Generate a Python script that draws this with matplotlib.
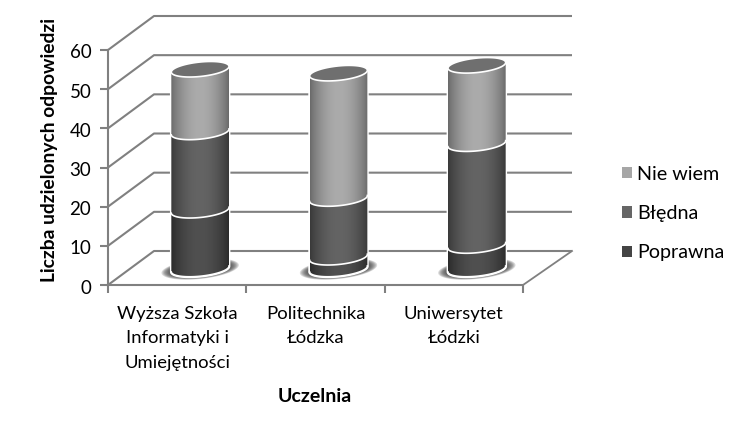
import numpy as np
import matplotlib
matplotlib.use("Agg")
import matplotlib.pyplot as plt
from matplotlib.patches import Patch, PathPatch, Polygon
from matplotlib.path import Path
from matplotlib.transforms import ScaledTranslation

categories = ["Wyższa Szkoła\nInformatyki i\nUmiejętności", "Politechnika\nŁódzka", "Uniwersytet\nŁódzki"]
series_names = ["Poprawna", "Błędna", "Nie wiem"]
poprawna = [15, 3, 6]
bledna = [20, 15, 26]
nie_wiem = [16, 32, 20]
yticks = [0, 10, 20, 30, 40, 50, 60]

edge_cols = ["#2a2a2a", "#383838", "#686868"]
mid_cols = ["#505050", "#646464", "#ababab"]
legend_cols = ["#444444", "#666666", "#a6a6a6"]
GRID = "#808080"

plt.rcParams["font.family"] = ["Lato", "DejaVu Sans"]
W, H = 740, 424
fig = plt.figure(figsize=(W / 100, H / 100), dpi=100)
L, R, T, B = 108, 523, 50, 285
ax = fig.add_axes([L / W, 1 - B / H, (R - L) / W, (B - T) / H])
ax.set_xlim(-0.5, 2.5)
ax.set_ylim(0, 60)
ax.set_facecolor("none")
pxx = 3.0 / (R - L)     # data units per px
pxy = 60.0 / (B - T)
dep_x, dep_y = 46 * pxx, 34 * pxy
end_x = 2.5 + 49 * pxx

# walls and floor
for v in yticks:
    ax.plot([-0.5, -0.5 + dep_x, end_x], [v, v + dep_y, v + dep_y], color=GRID, lw=1.5,
            clip_on=False, zorder=1, solid_capstyle="butt")
ax.plot([2.5, end_x], [0, dep_y], color=GRID, lw=1.3, clip_on=False, zorder=1)

# cylinders
a, b, th = 29.0, 7.2, np.deg2rad(-6.0)   # pixel geometry, y pointing down
base = dep_y / 2 - 1 * pxy


def ell(cx, v, t):
    xp = a * np.cos(t) * np.cos(th) - b * np.sin(t) * np.sin(th)
    yp = a * np.cos(t) * np.sin(th) + b * np.sin(t) * np.cos(th)
    return cx + xp * pxx, v + base - yp * pxy


tl = np.linspace(0, np.pi, 60)  # lower arc, right to left
tall = np.linspace(0, 2 * np.pi, 120)
grad_t = np.linspace(0, 1, 256)
prof = np.sin(np.pi * grad_t) ** 0.8

for i in range(len(categories)):
    cx = i + 46 * pxx / 2
    vals = [poprawna[i], bledna[i], nie_wiem[i]]
    cum = np.concatenate([[0], np.cumsum(vals)])
    # base shadow
    for k, s in enumerate(np.linspace(1.34, 1.0, 9)):
        sx, sy = ell(cx, 0, tall)
        sx = cx + (sx - cx) * s
        sy = base + (sy - base) * (1.0 + (s - 1) * 1.1)
        ax.add_patch(Polygon(np.c_[sx, sy], closed=True, fc="#404040", ec="none", alpha=0.2,
                             clip_on=False, zorder=2))
    # white halo
    hx = np.r_[ell(cx, cum[0], tl)[0], ell(cx, cum[-1], tl[::-1])[0]]
    hy = np.r_[ell(cx, cum[0], tl)[1], ell(cx, cum[-1], tl[::-1])[1]]
    ax.add_patch(Polygon(np.c_[hx, hy], closed=True, fc="white", ec="white", lw=2.0,
                         clip_on=False, zorder=3))
    for j in range(3):
        x0, y0 = ell(cx, cum[j], tl)
        x1, y1 = ell(cx, cum[j + 1], tl[::-1])
        poly = np.c_[np.r_[x0, x1], np.r_[y0, y1]]
        clip = PathPatch(Path(np.vstack([poly, poly[0]])), transform=ax.transData, fc="none", ec="none")
        ax.add_patch(clip)
        c0 = np.array(matplotlib.colors.to_rgb(edge_cols[j]))
        c1 = np.array(matplotlib.colors.to_rgb(mid_cols[j]))
        img = (c0[None, None, :] + (c1 - c0)[None, None, :] * prof[None, :, None])
        im = ax.imshow(img, extent=[poly[:, 0].min(), poly[:, 0].max(), poly[:, 1].min(), poly[:, 1].max()],
                       aspect="auto", origin="lower", zorder=4, interpolation="bilinear")
        im.set_clip_path(clip)
        ax.plot(x0, y0, color="white", lw=1.2, clip_on=False, zorder=5)
    # top
    tx, ty = ell(cx, cum[-1], tall)
    ax.add_patch(Polygon(np.c_[tx, ty], closed=True, fc="#6f6f6f", ec="white", lw=1.2,
                         clip_on=False, zorder=6))

ax.set_xlim(-0.5, 2.5)
ax.set_ylim(0, 60)

# axes
for s in ["top", "right"]:
    ax.spines[s].set_visible(False)
for s in ["left", "bottom"]:
    ax.spines[s].set_color(GRID)
    ax.spines[s].set_linewidth(1.5)
    ax.spines[s].set_zorder(7)
ax.set_yticks(yticks)
ax.set_xticks(range(len(categories)))
ax.set_xticklabels(categories, fontsize=13.3, color="black", linespacing=1.65)
ax.set_xticks([-0.5, 0.5, 1.5, 2.5], minor=True)
ax.tick_params(axis="x", which="major", length=0, pad=15)
ax.tick_params(axis="x", which="minor", length=6, width=1.5, color=GRID)
ax.tick_params(axis="y", length=6, width=1.5, color=GRID, labelsize=13.5, pad=6)
for lab in ax.get_yticklabels():
    lab.set_transform(lab.get_transform() + ScaledTranslation(0, -0.015, fig.dpi_scale_trans))
ax.set_ylabel("Liczba udzielonych odpowiedzi", fontsize=13.9, fontweight="bold")
ax.yaxis.set_label_coords((58 - L) / (R - L), (B - 150) / (B - T))
ax.set_xlabel("Uczelnia", fontsize=14, fontweight="bold")
ax.xaxis.set_label_coords((315 - L) / (R - L), (B - 388) / (B - T))

handles = [Patch(fc=legend_cols[k], ec="none", label=series_names[k]) for k in [2, 1, 0]]
fig.legend(handles=handles, loc="center left", bbox_to_anchor=(622 / W, 1 - 213.5 / H), frameon=False,
           fontsize=14.2, handlelength=0.52, handleheight=0.52, handletextpad=0.24, labelspacing=1.13,
           borderpad=0, borderaxespad=0)

fig.savefig("out.png", dpi=100)
